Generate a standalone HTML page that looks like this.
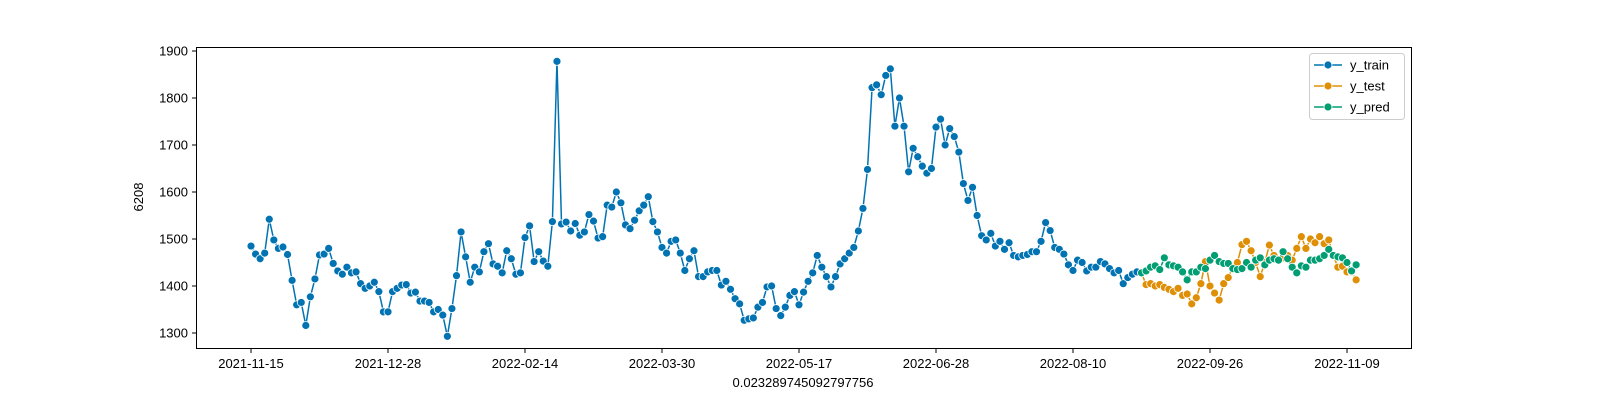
<!DOCTYPE html>
<html><head><meta charset="utf-8"><style>
body{margin:0;background:#fff;}
svg text{font-family:"Liberation Sans",sans-serif;font-size:13px;fill:#000;}
</style></head><body>
<svg width="1600" height="400" id="chart">
<rect x="0" y="0" width="1600" height="400" fill="#fff"/>
</svg>
<script>
const yTrain=[1485,1468,1458,1470,1542,1498,1480,1483,1467,1412,1360,1365,1316,1377,1415,1466,1468,1480,1448,1432,1425,1440,1428,1430,1405,1395,1400,1408,1388,1345,1345,1388,1395,1402,1403,1385,1387,1368,1368,1365,1345,1350,1338,1293,1352,1422,1515,1462,1408,1440,1430,1473,1490,1447,1442,1428,1475,1458,1425,1428,1503,1528,1452,1473,1453,1442,1537,1878,1532,1536,1517,1533,1508,1515,1552,1538,1502,1505,1572,1568,1600,1577,1530,1522,1540,1560,1572,1590,1537,1515,1482,1470,1495,1498,1470,1433,1458,1475,1420,1420,1430,1433,1433,1402,1410,1393,1373,1362,1327,1330,1332,1355,1365,1398,1400,1352,1337,1355,1380,1388,1360,1387,1410,1428,1465,1440,1420,1398,1420,1447,1458,1470,1482,1517,1565,1648,1822,1828,1807,1848,1862,1740,1800,1740,1643,1693,1675,1655,1640,1650,1738,1755,1700,1735,1718,1685,1618,1582,1610,1550,1507,1498,1512,1485,1495,1478,1492,1465,1462,1465,1467,1473,1473,1495,1535,1518,1482,1478,1468,1445,1433,1455,1450,1432,1440,1440,1452,1447,1437,1428,1433,1405,1418,1425,1430];
const yTest=[1428,1403,1405,1400,1403,1397,1393,1388,1395,1380,1383,1362,1375,1405,1452,1400,1385,1370,1405,1418,1440,1450,1488,1495,1475,1450,1420,1450,1487,1465,1455,1460,1465,1455,1480,1505,1480,1500,1492,1505,1490,1498,1465,1440,1442,1430,1430,1413];
const yPred=[1428,1432,1440,1443,1435,1460,1445,1443,1440,1430,1413,1430,1430,1440,1437,1455,1465,1452,1448,1448,1437,1435,1437,1450,1440,1455,1460,1445,1455,1458,1455,1473,1458,1440,1428,1443,1440,1455,1455,1458,1465,1478,1465,1462,1460,1450,1432,1445];
const xTickLabels=["2021-11-15","2021-12-28","2022-02-14","2022-03-30","2022-05-17","2022-06-28","2022-08-10","2022-09-26","2022-11-09"];
const yTicks=[1300,1400,1500,1600,1700,1800,1900];

const NS="http://www.w3.org/2000/svg";
const svg=document.getElementById('chart');
const X=i=>251+i*137/30;
const Y=v=>333-(v-1300)*0.47;
function mk(t,a,p){const e=document.createElementNS(NS,t);for(const k in a)e.setAttribute(k,a[k]);(p||svg).appendChild(e);return e;}
const ax=mk('rect',{x:196.5,y:47.5,width:1215,height:301,fill:'none',stroke:'#000','stroke-width':1});


yTicks.forEach(v=>{
  const y=Y(v);
  mk('line',{x1:192,x2:196,y1:y,y2:y,stroke:'#000'});
  const t=mk('text',{x:188,y:y+4.5,'text-anchor':'end'});t.textContent=v;
  
  
});
xTickLabels.forEach((l,k)=>{
  const x=X(k*30);
  mk('line',{x1:x,x2:x,y1:349,y2:353,stroke:'#000'});
  const t=mk('text',{x:x,y:368,'text-anchor':'middle'});t.textContent=l;
  
  
});
const xl=mk('text',{x:803,y:387,'text-anchor':'middle'});xl.textContent='0.023289745092797756';


const yl=mk('text',{x:143,y:197,'text-anchor':'middle',transform:'rotate(-90 143 197)'});yl.textContent='6208';



function series(vals,off,color,name){
  const g=mk('g',{});
  
  
  mk('polyline',{points:vals.map((v,i)=>X(i+off)+','+Y(v)).join(' '),fill:'none',stroke:color,'stroke-width':1.5},g);
  vals.forEach((v,i)=>{
    const c=mk('circle',{cx:X(i+off),cy:Y(v),r:4,fill:color,stroke:'#fff','stroke-width':0.8},g);
    
    
  });
}
series(yTrain,0,'#0173b2','y-train');
series(yTest,yTrain.length,'#de8f05','y-test');
series(yPred,yTrain.length,'#029e73','y-pred');

const lg=mk('g',{});


mk('rect',{x:1309.5,y:53.5,width:95,height:66,rx:3,fill:'#fff',stroke:'#ccc'},lg);
[['y_train','#0173b2'],['y_test','#de8f05'],['y_pred','#029e73']].forEach((e,k)=>{
  const y=65+k*21;
  mk('line',{x1:1314,x2:1342,y1:y,y2:y,stroke:e[1],'stroke-width':1.5},lg);
  mk('circle',{cx:1328,cy:y,r:4,fill:e[1],stroke:'#fff','stroke-width':0.8},lg);
  const t=mk('text',{x:1350,y:y+4.5},lg);t.textContent=e[0];
  
  
});
</script>
</body></html>
